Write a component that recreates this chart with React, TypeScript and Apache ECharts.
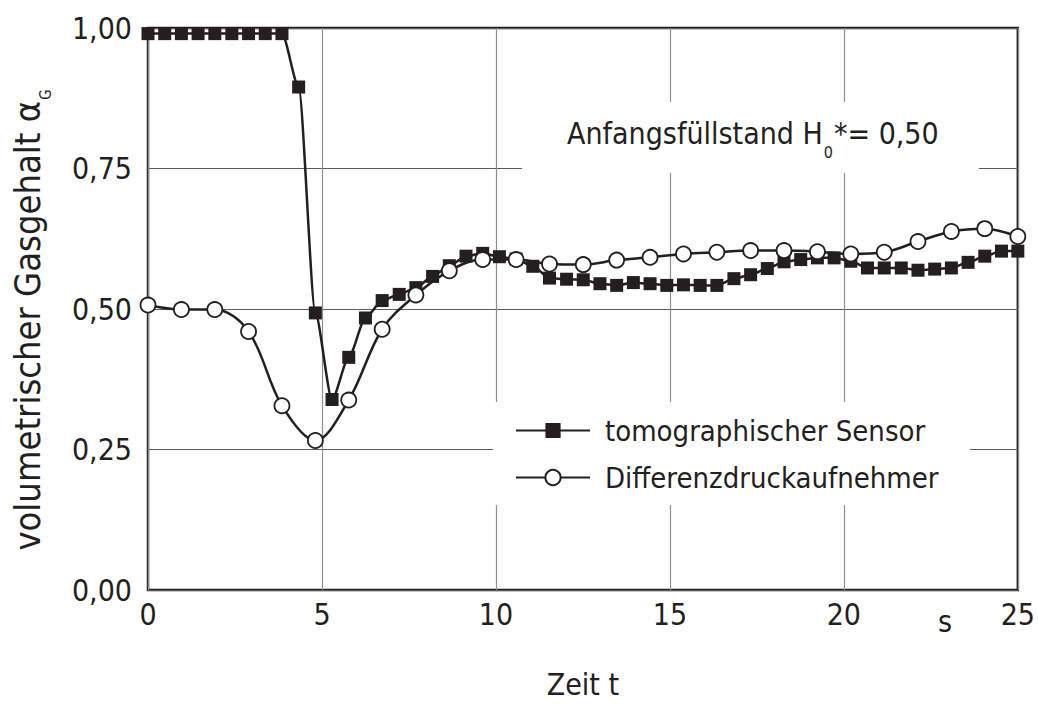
import React, { useEffect, useRef } from "react";
import * as echarts from "echarts";

const FONT = '"Liberation Sans Narrow", "DejaVu Sans Condensed", "Roboto Condensed", "Noto Sans", sans-serif';
const INK = "#231f20";

const xTicks = [0, 5, 10, 15, 20, 25];
const yTicks = [0, 0.25, 0.5, 0.75, 1.0];

const tomoTimes = [
  0, 0.48, 0.96, 1.44, 1.92, 2.41, 2.89, 3.37, 3.85, 4.33,
  4.81, 5.29, 5.77, 6.25, 6.73, 7.22, 7.7, 8.18, 8.66, 9.14,
  9.62, 10.1, 10.58, 11.06, 11.54, 12.03, 12.51, 12.99, 13.47, 13.95,
  14.43, 14.91, 15.39, 15.87, 16.35, 16.84, 17.32, 17.8, 18.28, 18.76,
  19.24, 19.72, 20.2, 20.68, 21.16, 21.65, 22.13, 22.61, 23.09, 23.57,
  24.05, 24.53, 25.0,
];
const tomoValues = [
  0.99, 0.99, 0.99, 0.99, 0.99, 0.99, 0.99, 0.99, 0.99, 0.895,
  0.493, 0.339, 0.414, 0.484, 0.515, 0.526, 0.538, 0.558, 0.577, 0.594,
  0.599, 0.593, 0.589, 0.576, 0.555, 0.553, 0.552, 0.545, 0.542, 0.547,
  0.545, 0.542, 0.543, 0.542, 0.542, 0.554, 0.561, 0.572, 0.584, 0.588,
  0.591, 0.591, 0.585, 0.573, 0.573, 0.573, 0.569, 0.571, 0.573, 0.583,
  0.594, 0.603, 0.603,
];

const diffTimes = [
  0, 0.96, 1.92, 2.89, 3.85, 4.81, 5.77, 6.73, 7.7, 8.66,
  9.62, 10.58, 11.54, 12.51, 13.47, 14.43, 15.39, 16.35, 17.32, 18.28,
  19.24, 20.2, 21.16, 22.13, 23.09, 24.05, 25.0,
];
const diffValues = [
  0.507, 0.499, 0.499, 0.46, 0.328, 0.266, 0.338, 0.464, 0.525, 0.568,
  0.588, 0.588, 0.58, 0.579, 0.587, 0.592, 0.598, 0.601, 0.604, 0.604,
  0.602, 0.598, 0.601, 0.62, 0.638, 0.643, 0.629,
];

const seriesNames = ["tomographischer Sensor", "Differenzdruckaufnehmer"];

export default function App() {
  const ref = useRef<HTMLDivElement>(null);
  useEffect(() => {
    document.body.style.margin = "0";
    const chart = echarts.init(ref.current!, null, { renderer: "svg" });
    const tomo = tomoTimes.map((t, i) => [t, tomoValues[i]]);
    const diff = diffTimes.map((t, i) => [t, diffValues[i]]);
    chart.setOption({
      animation: false,
      backgroundColor: "#ffffff",
      textStyle: { fontFamily: FONT, color: INK },
      grid: {
        left: 148,
        top: 28,
        right: 18,
        bottom: 108,
        show: true,
        borderColor: INK,
        borderWidth: 2.5,
        backgroundColor: "transparent",
      },
      xAxis: {
        type: "value",
        min: xTicks[0],
        max: xTicks[xTicks.length - 1],
        interval: 5,
        axisLine: { show: false },
        axisTick: { show: false },
        splitLine: { show: true, lineStyle: { color: "#8f8f8f", width: 1.2 } },
        axisLabel: {
          color: INK,
          fontFamily: FONT,
          fontSize: 30,
          margin: 9,
          formatter: (v: number) => String(v),
        },
        name: "Zeit t",
        nameLocation: "middle",
        nameGap: 79,
        nameTextStyle: { color: INK, fontFamily: FONT, fontSize: 30 },
      },
      yAxis: {
        type: "value",
        min: yTicks[0],
        max: yTicks[yTicks.length - 1],
        interval: 0.25,
        axisLine: { show: false },
        axisTick: { show: false },
        splitLine: { show: true, lineStyle: { color: "#5c5c5c", width: 1.2 } },
        axisLabel: {
          color: INK,
          fontFamily: FONT,
          fontSize: 30,
          margin: 16,
          formatter: (v: number) => v.toFixed(2).replace(".", ","),
        },
        name: "{t|volumetrischer Gasgehalt }{a|α}{sub|G}",
        nameLocation: "middle",
        nameRotate: 90,
        nameGap: 100,
        nameTextStyle: {
          color: INK,
          fontFamily: FONT,
          fontSize: 36,
          padding: [0, 22, 0, 0],
          rich: {
            t: { fontFamily: FONT, fontSize: 36, color: INK, verticalAlign: "top", lineHeight: 39 },
            a: { fontFamily: FONT, fontSize: 36, color: INK, verticalAlign: "top", lineHeight: 39 },
            sub: { fontFamily: FONT, fontSize: 15, color: INK, verticalAlign: "top", lineHeight: 15, padding: [29, 0, 0, 1] },
          },
        },
      },
      legend: {
        data: seriesNames,
        orient: "vertical",
        left: 515,
        top: 415,
        padding: 0,
        itemWidth: 74,
        itemHeight: 19,
        itemGap: 16,
        textStyle: { color: INK, fontFamily: FONT, fontSize: 29, lineHeight: 31, padding: [0, 0, 0, 10] },
      },
      graphic: [
        { type: "rect", z: 1, silent: true, shape: { x: 522, y: 102, width: 457, height: 71 }, style: { fill: "#ffffff" } },
        { type: "rect", z: 1, silent: true, shape: { x: 493, y: 402, width: 477, height: 103 }, style: { fill: "#ffffff" } },
        {
          type: "text",
          z: 5,
          x: 567,
          y: 118,
          style: {
            text: "{m|Anfangsfüllstand H}{sub|0}{m|*= 0,50}",
            fill: INK,
            font: `28px ${FONT}`,
            rich: {
              m: { fontFamily: FONT, fontSize: 30, fill: INK, verticalAlign: "top", lineHeight: 34 },
              sub: { fontFamily: FONT, fontSize: 16, fill: INK, verticalAlign: "top", lineHeight: 16, padding: [26, 1, 0, 1] },
            },
          },
        },
        {
          type: "text",
          z: 5,
          x: 945,
          y: 621,
          style: { text: "s", fill: INK, font: `30px ${FONT}`, align: "center", verticalAlign: "middle" },
        },
      ],
      series: [
        {
          name: seriesNames[0],
          type: "line",
          data: tomo,
          smooth: 0.25,
          smoothMonotone: "x",
          symbol: "rect",
          symbolSize: 13,
          z: 3,
          lineStyle: { color: INK, width: 2.5 },
          itemStyle: { color: INK, borderColor: INK, borderWidth: 0 },
        },
        {
          name: seriesNames[1],
          type: "line",
          data: diff,
          smooth: 0.35,
          symbol: "circle",
          symbolSize: 15,
          z: 4,
          lineStyle: { color: INK, width: 2.5 },
          itemStyle: { color: "#ffffff", borderColor: INK, borderWidth: 1.8 },
        },
      ],
    });
    return () => chart.dispose();
  }, []);
  return <div ref={ref} style={{ position: "absolute", left: 0, top: 0, width: 1038, height: 704 }} />;
}
